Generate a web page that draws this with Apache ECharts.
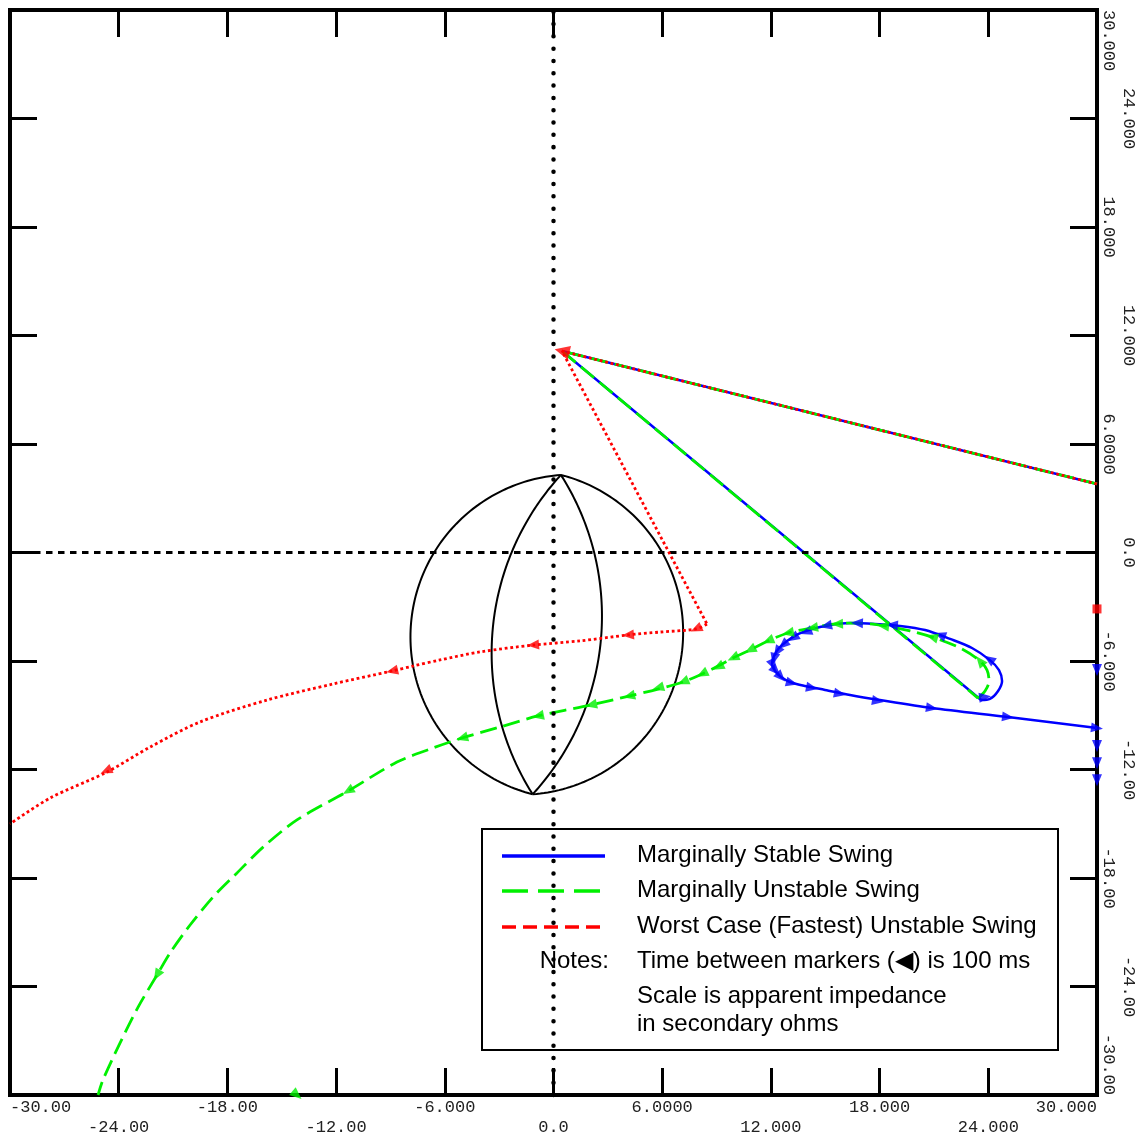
<!DOCTYPE html>
<html>
<head>
<meta charset="utf-8">
<script src="https://cdn.jsdelivr.net/npm/echarts@6/dist/echarts.min.js"></script>
<style>
html,body{margin:0;padding:0;background:#fff;}
#chart{width:1138px;height:1135px;}
</style>
</head>
<body>
<div id="chart"></div>
<script>
// ---------------- data (apparent impedance, secondary ohms) ----------------
const tickValues = [-30, -24, -18, -12, -6, 0, 6, 12, 18, 24, 30];
const tickTexts = ['-30.00', '-24.00', '-18.00', '-12.00', '-6.000', '0.0', '6.0000', '12.000', '18.000', '24.000', '30.000'];

// relay characteristic (lens / tomato) : apexes and arc bulges (ohms, + right, - left)
const charTop = [0.41, 4.29];
const charBottom = [-1.15, -13.37];
const charArcBulges = [7.52, -7.52, 3.0, -3.0];

// pre-fault -> fault jump (shared by all three swings)
const faultJump = [[30, 3.79], [0.47, 11.14]];

// Marginally Stable Swing
const stableClearJump = [[0.47, 11.14], [23.6, -8.16]];
const stableLoop = [[23.6, -8.16], [24.09, -8.10], [24.54, -7.66], [24.76, -7.11], [24.59, -6.50], [24.09, -5.95],
  [23.10, -5.28], [21.89, -4.78], [20.51, -4.29], [19.13, -4.06], [17.75, -3.95], [16.37, -3.90], [15.26, -4.01],
  [14.27, -4.23], [13.50, -4.51], [12.89, -4.89], [12.45, -5.28], [12.17, -5.72], [12.06, -6.17], [12.23, -6.55],
  [12.56, -6.89], [13.05, -7.16], [13.88, -7.38], [14.99, -7.60], [16.37, -7.88], [18.02, -8.16], [20.89, -8.60],
  [25.09, -9.10], [30, -9.71]];
const stableMarkers = [[23.82, -7.99], [24.04, -5.89], [21.33, -4.56], [18.68, -4.01], [16.75, -3.90], [15.04, -4.06],
  [13.94, -4.40], [13.22, -4.73], [12.67, -5.12], [12.34, -5.50], [12.17, -5.89], [12.12, -6.22], [12.28, -6.55],
  [12.56, -6.89], [13.16, -7.22], [14.27, -7.49], [15.81, -7.82], [17.91, -8.21], [20.89, -8.60], [25.09, -9.10], [30, -9.71]];
const stableEdgeMarkers = [[30, -6.50], [30, -10.70], [30, -11.65], [30, -12.60]];

// Marginally Unstable Swing
const unstableClearJump = [[0.47, 11.14], [23.43, -8.05]];
const unstableLoop = [[23.43, -8.05], [23.82, -7.66], [24.04, -7.11], [23.93, -6.50], [23.49, -5.95], [22.44, -5.28],
  [21.06, -4.73], [19.68, -4.34], [18.30, -4.06], [16.75, -3.90], [15.54, -3.95], [14.27, -4.17], [12.94, -4.45],
  [11.84, -4.89], [10.85, -5.39], [9.91, -5.83], [9.08, -6.28], [8.20, -6.72], [7.15, -7.16], [5.77, -7.55],
  [4.17, -7.94], [2.07, -8.43], [-0.86, -9.04], [-2.95, -9.65], [-5.05, -10.26], [-6.82, -10.87], [-8.64, -11.59],
  [-11.34, -13.19], [-14.16, -14.79], [-16.03, -16.29], [-17.47, -17.72], [-18.79, -19.05], [-20.06, -20.60],
  [-21.17, -22.15], [-21.89, -23.37], [-22.93, -25.14], [-23.93, -27.13], [-24.87, -29.17], [-25.14, -30.0]];
const unstableMarkers = [[23.54, -5.99], [20.89, -4.67], [18.19, -4.06], [15.65, -3.95], [14.27, -4.17], [12.94, -4.45],
  [11.84, -4.89], [10.85, -5.39], [9.91, -5.83], [9.08, -6.33], [8.20, -6.72], [7.15, -7.16], [5.77, -7.49],
  [4.17, -7.94], [2.07, -8.43], [-0.86, -9.04], [-5.05, -10.26], [-11.34, -13.19], [-21.89, -23.37]];
const unstableEdgeMarkers = [[-14.16, -30]];

// Worst Case (Fastest) Unstable Swing
const worstClearJump = [[0.47, 11.14], [8.47, -3.95]];
const worstLoop = [[8.47, -3.95], [7.87, -4.23], [5.88, -4.40], [4.11, -4.56], [1.46, -4.89], [-1.13, -5.12],
  [-4.06, -5.50], [-6.26, -5.94], [-7.76, -6.28], [-8.91, -6.55], [-12.17, -7.27], [-15.81, -8.16], [-19.51, -9.37],
  [-22.27, -10.76], [-24.65, -12.14], [-27.79, -13.58], [-30, -15.01]];
const worstStartMarker = [[0.47, 11.14]];
const worstMarkers = [[7.87, -4.23], [4.11, -4.56], [-1.13, -5.12], [-8.91, -6.55], [-24.70, -12.08]];
const worstEdgeMarkers = [[30, -3.12]];

// ---------------- helpers ----------------
const BLUE = '#0000ff', GREEN = '#00f000', RED = '#ff0000';

function tangentRot(path, p) {
  let best = Infinity, ang = 0;
  for (let i = 0; i < path.length - 1; i++) {
    const a = path[i], b = path[i + 1];
    const dx = b[0] - a[0], dy = b[1] - a[1];
    const l2 = dx * dx + dy * dy;
    if (l2 === 0) continue;
    let t = ((p[0] - a[0]) * dx + (p[1] - a[1]) * dy) / l2;
    t = Math.max(0, Math.min(1, t));
    const qx = a[0] + t * dx - p[0], qy = a[1] + t * dy - p[1];
    const d = Math.hypot(qx, qy);
    if (d < best - 1e-9) { best = d; ang = Math.atan2(dy, dx); }
  }
  return ang * 180 / Math.PI - 90;
}
function seqRot(list, i, prevPoint) {
  let a, b;
  if (i < list.length - 1) { a = list[i]; b = list[i + 1]; }
  else if (i > 0) { a = list[i - 1]; b = list[i]; }
  else { a = prevPoint; b = list[i]; }
  return Math.atan2(b[1] - a[1], b[0] - a[0]) * 180 / Math.PI - 90;
}
function fullPath(clearJump, loop) {
  return faultJump.concat(clearJump.slice(1), loop.slice(1));
}
function markerData(path, markers) {
  return markers.map(p => ({ value: p, symbolRotate: tangentRot(path, p) }));
}
function edgeData(list, prevPoint) {
  return list.map((p, i) => ({ value: p, symbolRotate: seqRot(list, i, prevPoint) }));
}

function renderArc(params, api) {
  const pT = api.coord(charTop);
  const pB = api.coord(charBottom);
  const ppu = api.size([1, 0])[0];
  const bulge = api.value(2);
  const vx = pT[0] - pB[0], vy = pT[1] - pB[1];
  const L = Math.hypot(vx, vy);
  const nx = -vy / L, ny = vx / L;
  const s = Math.abs(bulge) * ppu, sg = Math.sign(bulge);
  const half = L / 2;
  const R = (s * s + half * half) / (2 * s);
  const mx = (pT[0] + pB[0]) / 2, my = (pT[1] + pB[1]) / 2;
  const cx = mx + sg * nx * (s - R), cy = my + sg * ny * (s - R);
  const a1 = Math.atan2(pT[1] - cy, pT[0] - cx), a2 = Math.atan2(pB[1] - cy, pB[0] - cx);
  let d = a2 - a1;
  while (d > Math.PI) d -= 2 * Math.PI;
  while (d <= -Math.PI) d += 2 * Math.PI;
  const am = a1 + d / 2;
  const ex = mx + sg * nx * s, ey = my + sg * ny * s;
  if (Math.hypot(cx + R * Math.cos(am) - ex, cy + R * Math.sin(am) - ey) > 1) {
    d = d > 0 ? d - 2 * Math.PI : d + 2 * Math.PI;
  }
  const pts = [];
  const N = 120;
  for (let i = 0; i <= N; i++) {
    const a = a1 + d * i / N;
    pts.push([cx + R * Math.cos(a), cy + R * Math.sin(a)]);
  }
  return { type: 'polyline', shape: { points: pts }, style: { stroke: '#000', fill: 'none', lineWidth: 2 } };
}

const monoFont = "'Liberation Mono', 'Courier New', monospace";
const sansFont = "'Liberation Sans', Arial, sans-serif";

function xLabel(v) {
  const i = tickValues.indexOf(Math.round(v));
  if (i < 0) return '';
  return i % 2 === 0 ? tickTexts[i] : '\n' + tickTexts[i];
}
function yLabel(v) {
  const i = tickValues.indexOf(Math.round(v));
  if (i < 0) return '';
  return i % 2 === 0 ? tickTexts[i] : tickTexts[i] + '\n';
}

const axisLineStyle = { show: true, onZero: false, lineStyle: { color: '#000', width: 4, cap: 'square' } };
const tickStyle = { show: true, inside: true, length: 27, lineStyle: { color: '#000', width: 3 } };
function baseAxis(extra) {
  return Object.assign({
    type: 'value', min: -30, max: 30, interval: 6,
    axisLine: axisLineStyle, axisTick: tickStyle,
    splitLine: { show: false }, axisLabel: { show: false }
  }, extra);
}

const stablePath = fullPath(stableClearJump, stableLoop);
const unstablePath = fullPath(unstableClearJump, unstableLoop);
const worstPath = fullPath(worstClearJump, worstLoop);

const blueLine = { color: BLUE, width: 2.5, type: 'solid' };
const greenLine = { color: GREEN, width: 2.8, type: [17, 7] };
const redLine = { color: RED, width: 2.8, type: [2.8, 2.8] };

const chart = echarts.init(document.getElementById('chart'), null, { renderer: 'canvas' });
chart.setOption({
  animation: false,
  backgroundColor: '#fff',
  grid: { left: 10, top: 10, width: 1087, height: 1085, containLabel: false, outerBoundsMode: 'none', show: false },
  xAxis: [
    baseAxis({
      position: 'bottom',
      axisLabel: {
        show: true, formatter: xLabel, margin: 2, fontFamily: monoFont, fontSize: 17, color: '#222',
        lineHeight: 20, showMinLabel: true, showMaxLabel: true, alignMinLabel: 'left', alignMaxLabel: 'right'
      }
    }),
    baseAxis({ position: 'top' })
  ],
  yAxis: [
    baseAxis({ position: 'left' }),
    baseAxis({
      position: 'right',
      axisLabel: {
        show: true, formatter: yLabel, margin: 1, rotate: -90, fontFamily: monoFont, fontSize: 17, color: '#222',
        lineHeight: 20, showMinLabel: true, showMaxLabel: true, alignMinLabel: 'right', alignMaxLabel: 'left'
      }
    })
  ],
  series: [
    {
      type: 'line', name: 'axes', data: [], silent: true, z: 1,
      markLine: {
        silent: true, symbol: ['none', 'none'], label: { show: false }, animation: false,
        data: [
          { xAxis: 0, lineStyle: { color: '#000', width: 4.5, type: [0.01, 12.3], cap: 'round' } },
          { yAxis: 0, lineStyle: { color: '#000', width: 3, type: [6.5, 5.5], cap: 'butt' } }
        ]
      }
    },
    {
      type: 'custom', name: 'characteristic', renderItem: renderArc, silent: true, z: 2,
      encode: { x: 0, y: 1 },
      data: charArcBulges.map(b => [charTop[0], charTop[1], b])
    },
    { type: 'line', name: 'Marginally Stable Swing', data: faultJump.concat(stableClearJump.slice(1)), showSymbol: false, lineStyle: blueLine, z: 3 },
    { type: 'line', name: 'Marginally Stable Swing', data: stableLoop, smooth: 0.3, showSymbol: false, lineStyle: blueLine, z: 3 },
    { type: 'line', name: 'Marginally Unstable Swing', data: faultJump.concat(unstableClearJump.slice(1)), showSymbol: false, lineStyle: greenLine, z: 4 },
    { type: 'line', name: 'Marginally Unstable Swing', data: unstableLoop, smooth: 0.3, showSymbol: false, lineStyle: greenLine, z: 4 },
    { type: 'line', name: 'Worst Case (Fastest) Unstable Swing', data: faultJump.concat(worstClearJump.slice(1)), showSymbol: false, lineStyle: redLine, z: 5 },
    { type: 'line', name: 'Worst Case (Fastest) Unstable Swing', data: worstLoop, smooth: 0.3, showSymbol: false, lineStyle: redLine, z: 5 },
    { type: 'scatter', name: 'stable markers', data: markerData(stablePath, stableMarkers), symbol: 'triangle', symbolSize: [10, 12], itemStyle: { color: BLUE }, clip: false, z: 6 },
    { type: 'scatter', name: 'stable edge markers', data: edgeData(stableEdgeMarkers, stableMarkers[stableMarkers.length - 1]), symbol: 'triangle', symbolSize: [10, 12], itemStyle: { color: BLUE }, clip: false, z: 6 },
    { type: 'scatter', name: 'unstable markers', data: markerData(unstablePath, unstableMarkers), symbol: 'triangle', symbolSize: [10, 12], itemStyle: { color: GREEN }, clip: false, z: 7 },
    { type: 'scatter', name: 'unstable edge markers', data: edgeData(unstableEdgeMarkers, unstableMarkers[unstableMarkers.length - 1]), symbol: 'triangle', symbolSize: [10, 12], itemStyle: { color: GREEN }, clip: false, z: 7 },
    { type: 'scatter', name: 'worst start marker', data: markerData(worstPath, worstStartMarker), symbol: 'triangle', symbolSize: [14, 15], itemStyle: { color: RED }, clip: false, z: 8 },
    { type: 'scatter', name: 'worst markers', data: markerData(worstPath, worstMarkers), symbol: 'triangle', symbolSize: [10, 12], itemStyle: { color: RED }, clip: false, z: 8 },
    { type: 'scatter', name: 'worst edge markers', data: worstEdgeMarkers, symbol: 'rect', symbolSize: 9, itemStyle: { color: RED }, clip: false, z: 8 }
  ],
  graphic: [
    {
      type: 'group', z: 100, children: [
        { type: 'rect', shape: { x: 482, y: 829, width: 576, height: 221 }, style: { fill: '#fff', stroke: '#000', lineWidth: 2 } },
        { type: 'line', shape: { x1: 502, y1: 856, x2: 605, y2: 856 }, style: { stroke: BLUE, lineWidth: 3.5 } },
        { type: 'line', shape: { x1: 502, y1: 891, x2: 605, y2: 891 }, style: { stroke: GREEN, lineWidth: 3.5, lineDash: [26, 10] } },
        { type: 'line', shape: { x1: 502, y1: 927, x2: 605, y2: 927 }, style: { stroke: RED, lineWidth: 3.5, lineDash: [14, 7] } },
        { type: 'text', x: 637, y: 855, style: { text: 'Marginally Stable Swing', font: '24px ' + sansFont, fill: '#000', align: 'left', verticalAlign: 'middle', textAlign: 'left', textVerticalAlign: 'middle' } },
        { type: 'text', x: 637, y: 890, style: { text: 'Marginally Unstable Swing', font: '24px ' + sansFont, fill: '#000', align: 'left', verticalAlign: 'middle', textAlign: 'left', textVerticalAlign: 'middle' } },
        { type: 'text', x: 637, y: 926, style: { text: 'Worst Case (Fastest) Unstable Swing', font: '24px ' + sansFont, fill: '#000', align: 'left', verticalAlign: 'middle', textAlign: 'left', textVerticalAlign: 'middle' } },
        { type: 'text', x: 609, y: 961, style: { text: 'Notes:', font: '24px ' + sansFont, fill: '#000', align: 'right', verticalAlign: 'middle', textAlign: 'right', textVerticalAlign: 'middle' } },
        { type: 'text', x: 637, y: 961, style: { text: 'Time between markers (\u25C0) is 100 ms', font: '24px ' + sansFont, fill: '#000', align: 'left', verticalAlign: 'middle', textAlign: 'left', textVerticalAlign: 'middle' } },
        { type: 'text', x: 637, y: 996, style: { text: 'Scale is apparent impedance', font: '24px ' + sansFont, fill: '#000', align: 'left', verticalAlign: 'middle', textAlign: 'left', textVerticalAlign: 'middle' } },
        { type: 'text', x: 637, y: 1024, style: { text: 'in secondary ohms', font: '24px ' + sansFont, fill: '#000', align: 'left', verticalAlign: 'middle', textAlign: 'left', textVerticalAlign: 'middle' } }
      ]
    }
  ]
});
</script>
</body>
</html>
